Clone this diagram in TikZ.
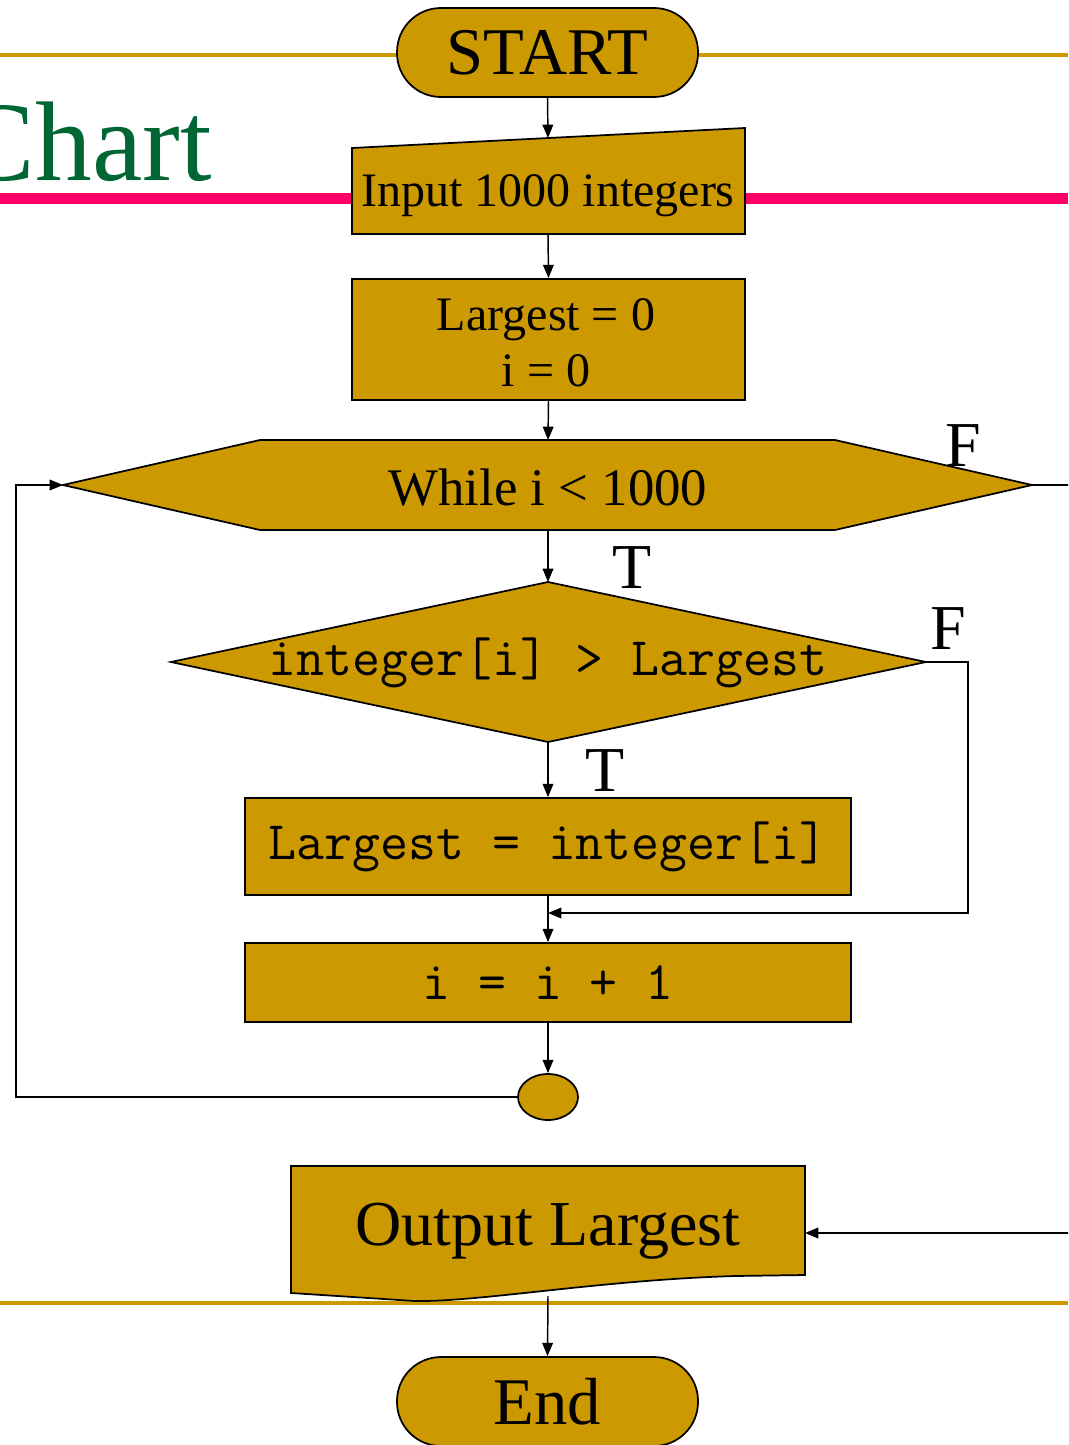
\documentclass[tikz,border=0pt]{standalone}
\usepackage{fontspec}
\setmainfont{Liberation Serif}
\usetikzlibrary{shapes.geometric,arrows.meta}
\definecolor{gold}{HTML}{CC9900}
\definecolor{pinkline}{HTML}{FF0066}
\definecolor{chartgreen}{HTML}{006633}
\begin{document}
\begin{tikzpicture}[x=0.75pt,y=-0.75pt,
  shapebox/.style={draw=black,fill=gold,line width=1.3pt},
  conn/.style={line width=1.1pt,-{Triangle[length=10pt,width=8pt]}},
  plain/.style={line width=1.1pt},
  rule/.style={line width=3pt,draw=gold},
  txt/.style={inner sep=0pt,font=\fontsize{36}{42}\selectfont,align=center},
  bigtxt/.style={inner sep=0pt,font=\fontsize{48}{48}\selectfont},
  codetxt/.style={inner sep=0pt,font=\ttfamily\fontsize{40.7}{41}\selectfont},
  terminal/.style={shapebox,rounded corners=33pt,minimum width=225.75pt,minimum height=66.75pt,inner sep=0pt,font=\fontsize{50}{50}\selectfont},
  procbox/.style={shapebox,inner sep=0pt}
]
\useasboundingbox (0,0) rectangle (1068,1445);
\clip (0,0) rectangle (1068,1445);

% background rules and title
\draw[rule] (0,55) -- (1068,55);
\draw[pinkline,line width=8.25pt] (0,198.5) -- (1068,198.5);
\draw[rule] (0,1303) -- (1068,1303);
\node[anchor=base east,text=chartgreen,inner sep=0pt,font=\fontsize{85}{85}\selectfont] (title) at (212,180) {Chart};

% START
\node[terminal] (start) at (547.5,52.5) {START};

% manual input
\draw[shapebox] (352,148) -- (745,128) -- (745,234) -- (352,234) -- cycle;
\coordinate (inT) at (548,138);
\coordinate (inB) at (548,234);
\node[txt] (intext) at (548,196) {Input 1000 integers};

% init box
\node[procbox,minimum width=294.75pt,minimum height=90.75pt] (init) at (548.5,339.5) {};
\node[txt] (inittext) at (546,343) {Largest = 0\\ i = 0};

% while hexagon
\draw[shapebox] (63,485) -- (260,440) -- (835,440) -- (1032,485) -- (835,530) -- (260,530) -- cycle;
\coordinate (hexL) at (63,485);
\coordinate (hexR) at (1032,485);
\coordinate (hexT) at (548,440);
\coordinate (hexB) at (548,530);
\node[inner sep=0pt,font=\fontsize{39.6}{40}\selectfont] (while) at (548,488) {While i < 1000};

% decision diamond
\draw[shapebox] (171,662) -- (548,582) -- (926,662) -- (548,742) -- cycle;
\coordinate (diaL) at (171,662);
\coordinate (diaT) at (548,582);
\coordinate (diaR) at (926,662);
\coordinate (diaB) at (548,742);
\node[codetxt] (cond) at (548,663) {integer[i] > Largest};

% update box
\node[procbox,minimum width=454.5pt,minimum height=72.75pt,codetxt,draw,fill=gold,line width=1.3pt] (upd) at (548,846.5) {Largest = integer[i]};

% increment box
\node[procbox,minimum width=454.5pt,minimum height=59.25pt,codetxt,draw,fill=gold,line width=1.3pt] (inc) at (548,982.5) {i = i + 1};

% connector circle
\node[shapebox,ellipse,minimum width=45pt,minimum height=34.5pt,inner sep=0pt] (join) at (548,1097) {};

% output document
\draw[shapebox] (291,1166) -- (805,1166) -- (805,1275) -- (735,1276)
  .. controls (600,1280) and (480,1302) .. (415,1301) -- (291,1293) -- cycle;
\coordinate (outR) at (805,1233);
\coordinate (outB) at (548,1296);
\node[bigtxt] (outtext) at (548,1231) {Output Largest};

% End
\node[terminal] (end) at (547.5,1401.5) {End};

% labels
\node[bigtxt] (f1) at (963,446) {F};
\node[bigtxt] (t1) at (632,568) {T};
\node[bigtxt] (f2) at (948,629) {F};
\node[bigtxt] (t2) at (605,771) {T};

% connectors
\draw[conn] (start.south) -- (inT);
\draw[conn] (inB) -- (init.north);
\draw[conn] (init.south) -- (hexT);
\draw[conn] (hexB) -- (diaT);
\draw[conn] (diaB) -- (upd.north);
\coordinate (merge) at (548,913);
\coordinate (fturn) at (968,913);
\draw[conn] (diaR) -| (fturn) -- (merge);
\draw[conn] (upd.south) -- (inc.north);
\draw[conn] (inc.south) -- (join.north);
\coordinate (loopC) at (16,1097);
\draw[conn] (join.west) -- (loopC) |- (hexL);
\coordinate (exitA) at (1075,485);
\coordinate (exitB) at (1075,1233);
\draw[plain] (hexR) -- (exitA);
\draw[conn] (exitB) -- (outR);
\draw[conn] (outB) -- (end.north);
\end{tikzpicture}
\end{document}
